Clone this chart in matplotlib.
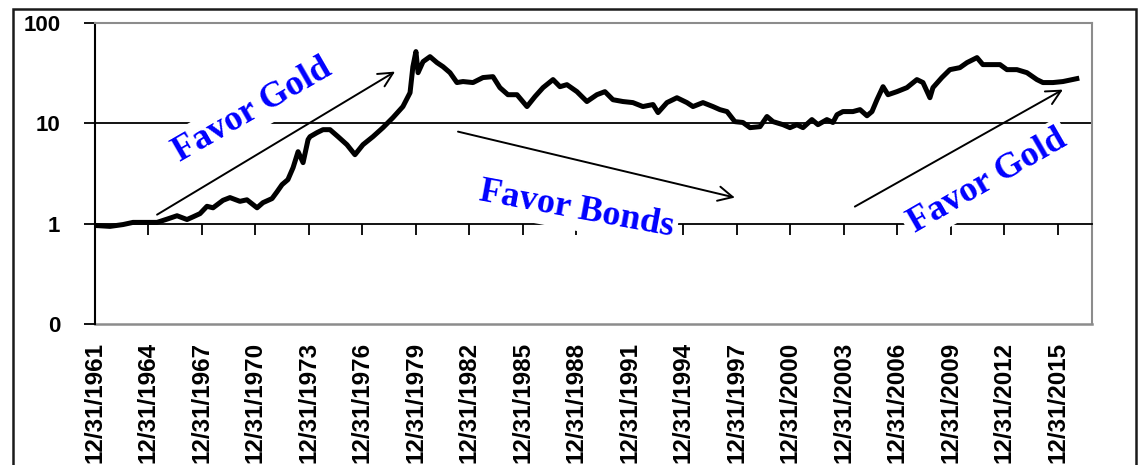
import matplotlib
matplotlib.use('Agg')
import matplotlib.pyplot as plt
from matplotlib.patches import Rectangle
from matplotlib.ticker import NullLocator

# gold / bond ratio (start = 1), dates as decimal years
years = [1962.00, 1962.84, 1963.57, 1964.13, 1964.69, 1965.48, 1966.04, 1966.60,
         1967.16, 1967.50, 1967.89, 1968.28, 1968.62, 1969.18, 1969.57, 1970.13,
         1970.52, 1971.09, 1971.42, 1971.93, 1972.21, 1972.49, 1972.82, 1973.11,
         1973.39, 1973.67, 1973.95, 1974.06, 1974.45, 1974.79, 1975.18, 1975.63,
         1976.13, 1976.58, 1977.03, 1977.59, 1978.15, 1978.71, 1979.27, 1979.67,
         1979.83, 1980.00, 1980.12, 1980.40, 1980.79, 1981.18, 1981.52, 1981.91,
         1982.30, 1982.64, 1983.20, 1983.76, 1984.32, 1984.71, 1985.16, 1985.67,
         1986.23, 1986.68, 1987.13, 1987.69, 1988.08, 1988.47, 1989.03, 1989.59,
         1990.15, 1990.60, 1991.05, 1991.61, 1992.17, 1992.73, 1993.30, 1993.58,
         1994.08, 1994.64, 1995.20, 1995.54, 1996.10, 1996.66, 1997.05, 1997.45,
         1997.89, 1998.34, 1998.74, 1999.30, 1999.69, 2000.03, 2000.59, 2000.98,
         2001.37, 2001.71, 2002.21, 2002.55, 2003.05, 2003.39, 2003.62, 2003.95,
         2004.51, 2004.91, 2005.30, 2005.58, 2005.86, 2006.20, 2006.48, 2006.98,
         2007.54, 2008.10, 2008.44, 2008.83, 2009.00, 2009.50, 2009.95, 2010.51,
         2010.91, 2011.47, 2011.80, 2012.20, 2012.76, 2013.15, 2013.71, 2014.27,
         2014.83, 2015.17, 2015.73, 2016.29, 2017.07]
ratio = [0.96, 0.94, 0.98, 1.03, 1.03, 1.03, 1.11, 1.20,
         1.10, 1.17, 1.26, 1.49, 1.44, 1.71, 1.82, 1.67,
         1.73, 1.44, 1.62, 1.78, 2.08, 2.45, 2.75, 3.62,
         5.22, 4.06, 6.88, 7.37, 8.08, 8.65, 8.65, 7.37,
         6.13, 4.87, 6.13, 7.37, 9.06, 11.4, 14.7, 20.2,
         36.7, 51.9, 32.0, 41.2, 46.2, 40.3, 36.7, 32.0,
         25.5, 26.1, 25.5, 28.6, 29.2, 22.7, 19.3, 19.3,
         14.7, 18.5, 22.7, 27.3, 23.2, 24.3, 20.7, 16.5,
         19.3, 20.7, 17.2, 16.5, 16.1, 14.7, 15.4, 12.8,
         16.1, 18.0, 16.1, 14.7, 16.1, 14.7, 13.7, 13.1,
         10.4, 10.2, 9.06, 9.27, 11.7, 10.4, 9.7, 9.06,
         9.7, 9.06, 10.9, 9.7, 10.9, 10.2, 12.2, 13.1,
         13.1, 13.7, 11.9, 13.1, 17.2, 23.2, 19.3, 20.7,
         22.7, 27.3, 25.5, 18.0, 22.7, 28.6, 34.3, 35.9,
         40.3, 45.2, 38.5, 38.5, 38.5, 34.3, 34.3, 32.0,
         27.3, 25.5, 25.5, 26.1, 27.9]

tick_years = list(range(1961, 2016, 3))
tick_labels = ['12/31/%d' % y for y in tick_years]
y_ticks = [0.1, 1, 10, 100]
y_labels = ['0', '1', '10', '100']

fig = plt.figure(figsize=(11.42, 4.65), dpi=100)
ax = fig.add_axes([0.0832, 0.3032, 0.873, 0.6473])

ax.set_yscale('log')
ax.plot(years, ratio, color='black', lw=3.6, solid_joinstyle='round', zorder=2)
ax.set_xlim(1962.0, 2017.92)
ax.set_ylim(0.1, 100)

# y axis
ax.set_yticks(y_ticks)
ax.set_yticklabels(y_labels, fontsize=16, fontweight='bold', family='Liberation Sans')
ax.yaxis.set_minor_locator(NullLocator())
ax.tick_params(axis='y', direction='out', length=8, width=1.3, pad=17)

# x axis sits on the "1" line, labels hang below the plot
ax.spines['bottom'].set_position(('data', 1))
ax.spines['bottom'].set_linewidth(1.3)
ax.set_xticks([y + 1 for y in tick_years])
ax.set_xticklabels(tick_labels, rotation=90, fontsize=17.5, fontweight='bold',
                   family='Liberation Sans')
ax.tick_params(axis='x', direction='out', length=8, width=1.3, pad=77)

ax.spines['left'].set_linewidth(1.5)
for side in ['top', 'right']:
    ax.spines[side].set_color('#8c8c8c')
    ax.spines[side].set_linewidth(1.5)
ax.axhline(0.1, color='#8c8c8c', lw=1.8, clip_on=False, zorder=2.5)
ax.axhline(10, color='black', lw=1.3, zorder=1)

# annotations
txt = dict(color='#0000ff', fontsize=26, fontweight='bold', family='Liberation Serif',
           ha='center', va='center', rotation_mode='anchor', zorder=4,
           bbox=dict(fc='white', ec='none', pad=3))
ax.text(1970.81, 13.4, 'Favor Gold', rotation=30, **txt)
ax.text(1988.98, 1.38, 'Favor Bonds', rotation=-10.5, **txt)
ax.text(2012.03, 2.62, 'Favor Gold', rotation=30, **txt)

arr = dict(arrowstyle='->', color='black', lw=1.4, shrinkA=0, shrinkB=0, mutation_scale=26)
ax.annotate('', xy=(1978.83, 32.8), xytext=(1965.48, 1.23), arrowprops=arr, zorder=5)
ax.annotate('', xy=(1997.89, 1.82), xytext=(1982.36, 8.27), arrowprops=arr, zorder=5)
ax.annotate('', xy=(2016.29, 21.7), xytext=(2004.62, 1.48), arrowprops=arr, zorder=5)

# outer frame
fig.patches.append(Rectangle((0.0114, -0.1), 0.9834, 1.0806, transform=fig.transFigure,
                             fill=False, ec='#1a1a1a', lw=1.8, clip_on=False))

fig.savefig('out.png', dpi=100)
